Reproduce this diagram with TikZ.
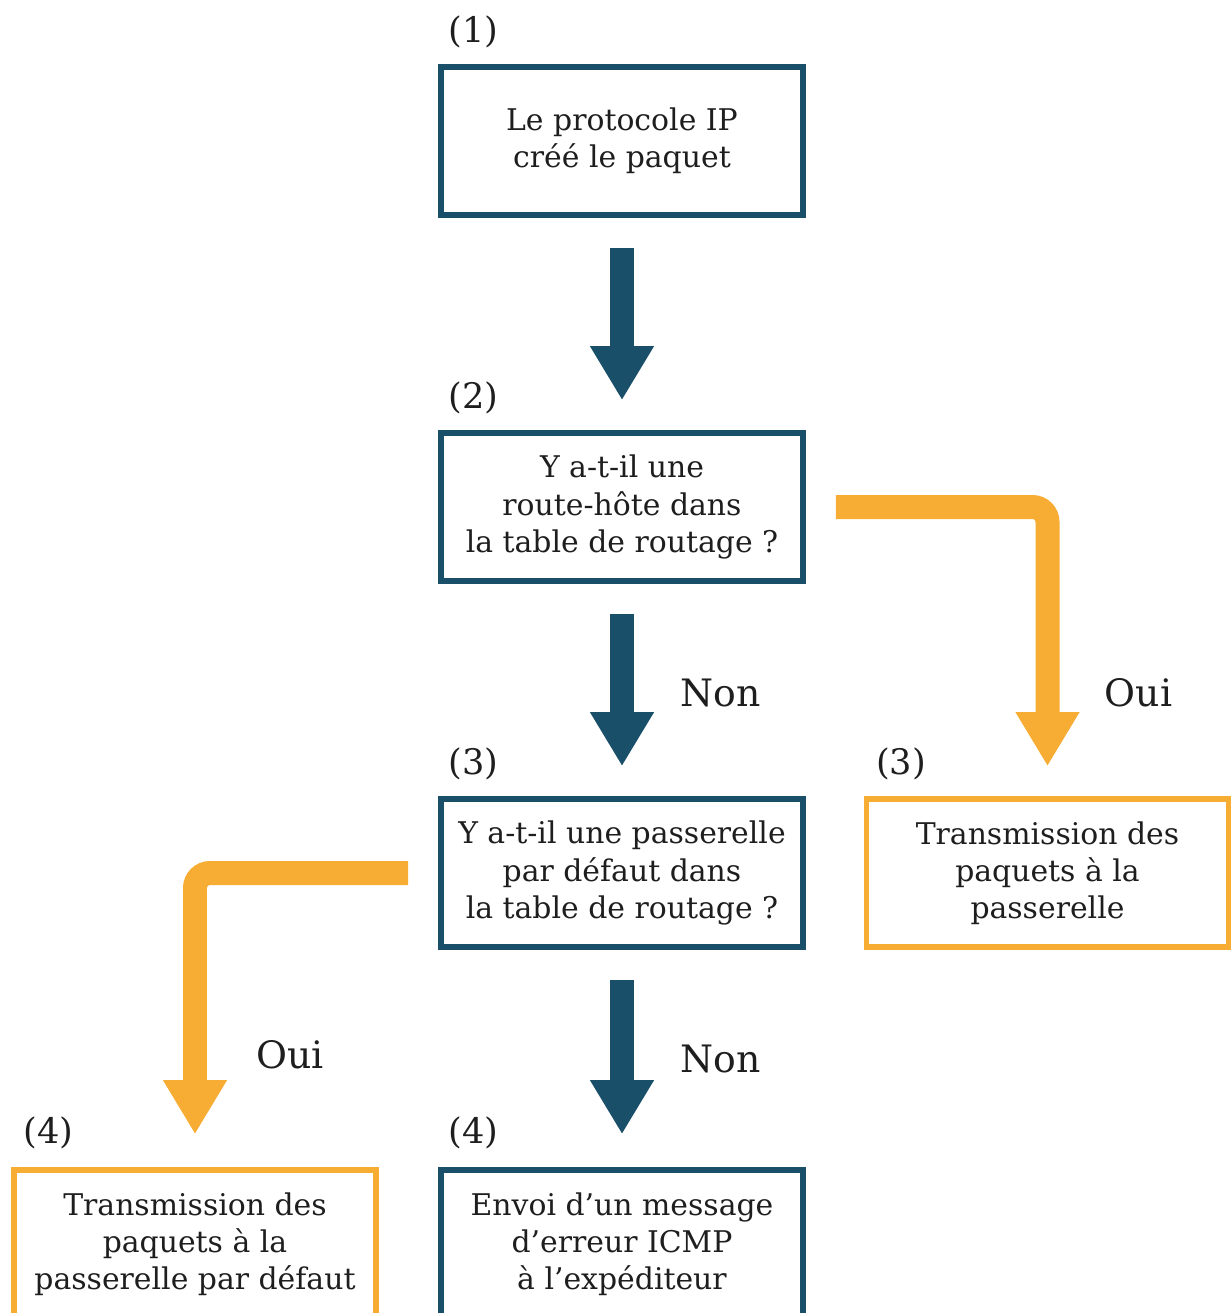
\documentclass[tikz,border=0pt]{standalone}
\usepackage{fontspec}
\setmainfont{DejaVu Serif}
\definecolor{PetrolBlue}{RGB}{26,79,106}
\definecolor{SunOrange}{RGB}{247,172,51}
\definecolor{InkGray}{RGB}{30,30,30}
\usetikzlibrary{arrows.meta, positioning, calc}

\begin{document}
\begin{tikzpicture}[x=0.02cm, y=-0.02cm,
    stepbox/.style={draw=PetrolBlue, line width=3.2pt, minimum width=7.24cm,
      minimum height=2.96cm, align=center, inner sep=0pt, text=InkGray,
      font=\fontsize{17}{21.2}\selectfont},
    endbox/.style={stepbox, draw=SunOrange},
    numlbl/.style={anchor=base west, inner sep=0pt, text=InkGray,
      font=\fontsize{20}{24}\selectfont},
    answer/.style={anchor=base west, inner sep=0pt, text=InkGray,
      font=\fontsize{21.5}{26}\selectfont},
    flow/.style={draw=PetrolBlue, line width=0.48cm,
      -{Triangle[width=1.2cm, length=1.08cm]},
      shorten <=0.6cm, shorten >=0.6cm},
    branch/.style={flow, draw=SunOrange, rounded corners=0.3cm}]
  \path[use as bounding box, clip] (0,0) rectangle (1231,1313);

  % the four steps down the middle
  \node[stepbox] (box1) at (622,141) {Le protocole IP\\créé le paquet};
  \node[stepbox] (box2) at (622,507) {Y a-t-il une\\route-hôte dans\\la table de routage ?};
  \node[stepbox] (box3) at (622,873) {Y a-t-il une passerelle\\par défaut dans\\la table de routage ?};
  \node[stepbox] (box4) at (622,1244) {Envoi d’un message\\d’erreur ICMP\\à l’expéditeur};

  % the two outcomes on the sides
  \node[endbox] (ansR) at (1047.5,873) {Transmission des\\paquets à la\\passerelle};
  \node[endbox] (ansL) at (195,1244) {Transmission des\\paquets à la\\passerelle par défaut};

  % step numbers
  \node[numlbl] (n1) at ($(box1.north west)+(10,-22)$) {(1)};
  \node[numlbl] (n2) at ($(box2.north west)+(10,-22)$) {(2)};
  \node[numlbl] (n3) at ($(box3.north west)+(10,-22)$) {(3)};
  \node[numlbl] (n3b) at ($(ansR.north west)+(12,-22)$) {(3)};
  \node[numlbl] (n4) at ($(box4.north west)+(10,-24)$) {(4)};
  \node[numlbl] (n4b) at ($(ansL.north west)+(12,-24)$) {(4)};

  % arrows
  \draw[flow] (box1) -- (box2);
  \draw[flow] (box2) -- (box3);
  \draw[flow] (box3) -- ($(box4.north)+(0,-3)$);
  \draw[branch] (box2.east) -| (ansR.north);
  \draw[branch] (box3.west) -| ($(ansL.north)+(0,-3)$);

  % answers
  \coordinate (gap23) at ($(box2.south)!0.5!(box3.north)$);
  \coordinate (gap34) at ($(box3.south)!0.5!(box4.north)$);
  \node[answer] (non1) at ($(gap23)+(58,16)$) {Non};
  \node[answer] (non2) at ($(gap34)+(58,14)$) {Non};
  \node[answer] (oui1) at ($(gap23 -| ansR.north)+(57,16)$) {Oui};
  \node[answer] (oui2) at ($(gap34 -| ansL.north)+(61,10)$) {Oui};
\end{tikzpicture}
\end{document}
